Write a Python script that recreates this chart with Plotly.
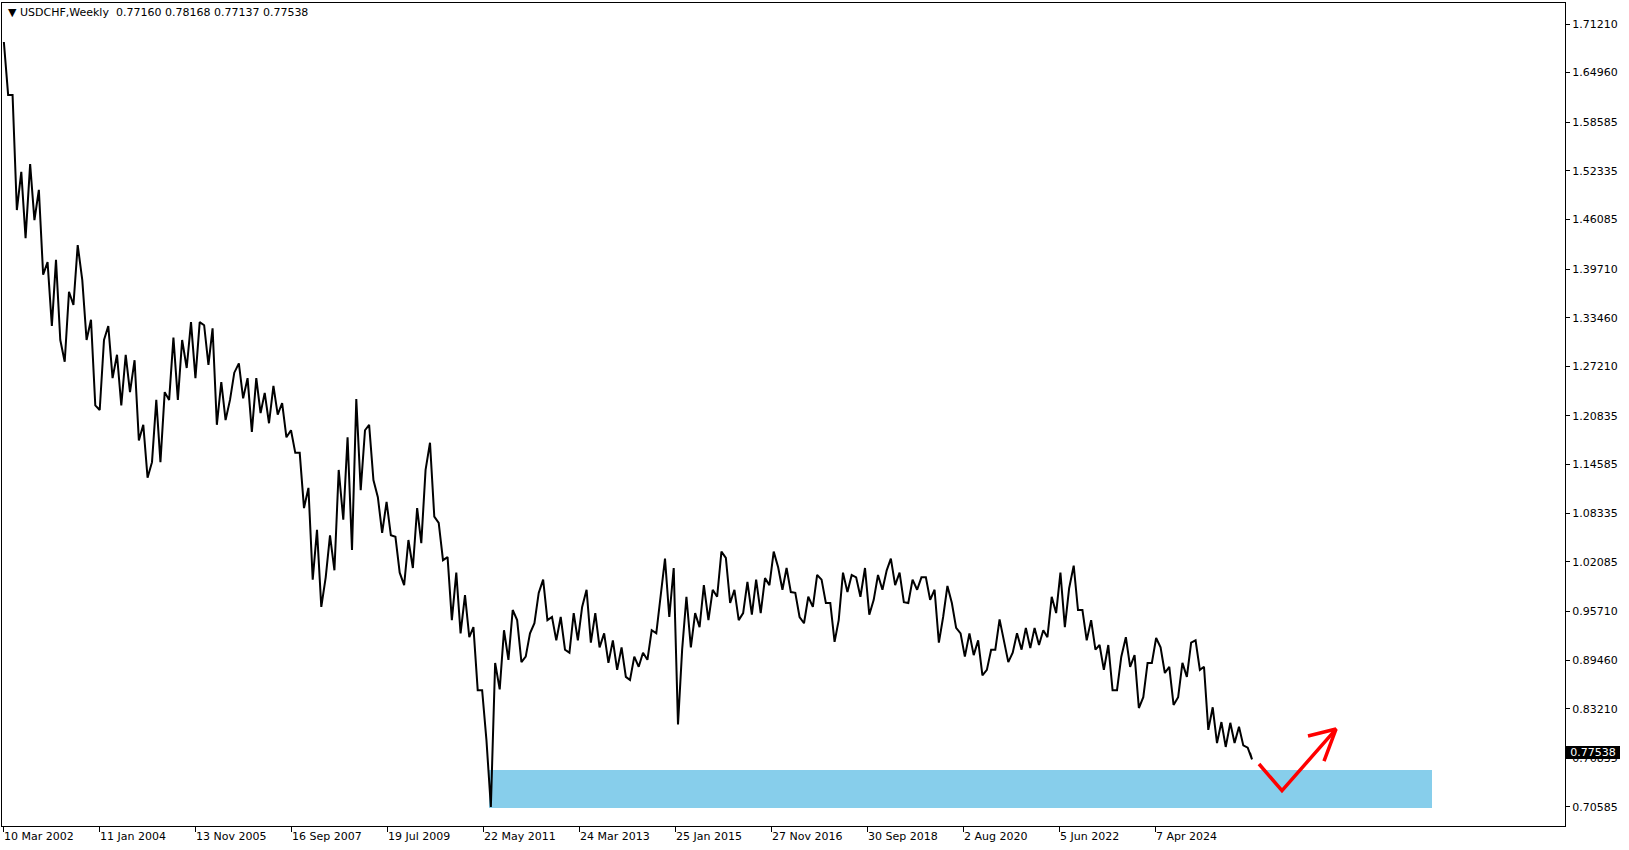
import plotly.graph_objects as go
import pandas as pd

window_start = "2002-03-01"
highs = [
    1.689, 1.621, 1.522, 1.532, 1.499, 1.406, 1.409, 1.368, 1.428, 1.383,
    1.332, 1.306, 1.324, 1.287, 1.287, 1.280, 1.197, 1.229, 1.239, 1.309,
    1.306, 1.329, 1.329, 1.325, 1.321, 1.252, 1.264, 1.276, 1.257, 1.257,
    1.238, 1.247, 1.225, 1.190, 1.161, 1.116, 1.062, 1.055, 1.139, 1.181,
    1.230, 1.190, 1.197, 1.104, 1.098, 1.053, 1.049, 1.090, 1.139, 1.174,
    1.071, 1.027, 1.007, 0.978, 0.937, 0.856, 0.891, 0.933, 0.959, 0.946,
    0.929, 0.981, 0.998, 0.950, 0.950, 0.955, 0.963, 0.985, 0.955, 0.929,
    0.920, 0.911, 0.899, 0.904, 0.933, 0.976, 1.025, 1.013, 0.976, 0.955,
    0.991, 0.985, 1.034, 1.026, 0.985, 0.995, 0.998, 1.000, 1.034, 1.014,
    1.013, 0.981, 0.976, 1.004, 0.998, 0.968, 1.007, 1.004, 1.001, 1.013,
    1.004, 1.010, 1.025, 1.007, 0.998, 1.001, 1.001, 0.985, 0.990, 0.968,
    0.929, 0.929, 0.920, 0.908, 0.947, 0.920, 0.929, 0.936, 0.936, 0.933,
    0.976, 1.007, 0.987, 1.016, 0.959, 0.946, 0.914, 0.914, 0.899, 0.924,
    0.901, 0.891, 0.923, 0.911, 0.886, 0.891, 0.917, 0.920, 0.886, 0.834,
    0.815, 0.814, 0.809, 0.782,
]
lows = [
    1.621, 1.473, 1.437, 1.460, 1.390, 1.324, 1.306, 1.278, 1.351, 1.306,
    1.222, 1.216, 1.257, 1.222, 1.239, 1.177, 1.129, 1.149, 1.149, 1.229,
    1.229, 1.270, 1.257, 1.274, 1.197, 1.203, 1.229, 1.231, 1.188, 1.212,
    1.199, 1.210, 1.181, 1.161, 1.090, 0.998, 0.963, 1.001, 1.010, 1.075,
    1.036, 1.113, 1.126, 1.058, 1.055, 1.007, 0.991, 1.013, 1.045, 1.079,
    1.023, 0.946, 0.929, 0.924, 0.856, 0.792, 0.706, 0.857, 0.895, 0.892,
    0.899, 0.942, 0.946, 0.920, 0.908, 0.904, 0.920, 0.917, 0.911, 0.891,
    0.882, 0.873, 0.869, 0.886, 0.895, 0.929, 0.950, 0.812, 0.908, 0.911,
    0.937, 0.946, 0.976, 0.968, 0.946, 0.955, 0.953, 0.955, 0.991, 0.985,
    0.982, 0.950, 0.942, 0.963, 0.968, 0.918, 0.946, 0.982, 0.976, 0.953,
    0.972, 0.985, 0.991, 0.969, 0.968, 0.985, 0.972, 0.917, 0.950, 0.936,
    0.899, 0.901, 0.875, 0.882, 0.908, 0.892, 0.904, 0.908, 0.910, 0.914,
    0.924, 0.955, 0.937, 0.959, 0.920, 0.908, 0.882, 0.856, 0.856, 0.886,
    0.833, 0.847, 0.891, 0.878, 0.837, 0.847, 0.873, 0.882, 0.805, 0.788,
    0.783, 0.788, 0.785, 0.767,
]
last_date = "2026-02-01"
last_ohlc = [0.77160, 0.78168, 0.77137, 0.77538]

y_ticks = [1.71210, 1.64960, 1.58585, 1.52335, 1.46085, 1.39710, 1.33460,
           1.27210, 1.20835, 1.14585, 1.08335, 1.02085, 0.95710, 0.89460,
           0.83210, 0.76835, 0.70585]
x_tick_dates = ["2002-03-10", "2004-01-11", "2005-11-13", "2007-09-16",
                "2009-07-19", "2011-05-22", "2013-03-24", "2015-01-25",
                "2016-11-27", "2018-09-30", "2020-08-02", "2022-06-05",
                "2024-04-07"]
x_tick_labels = ["10 Mar 2002", "11 Jan 2004", "13 Nov 2005", "16 Sep 2007",
                 "19 Jul 2009", "22 May 2011", "24 Mar 2013", "25 Jan 2015",
                 "27 Nov 2016", "30 Sep 2018", "2 Aug 2020", "5 Jun 2022",
                 "7 Apr 2024"]

# support zone and hand-drawn arrow
zone_dates = ["2011-07-03", "2029-07-29"]
zone_prices = [0.7045, 0.7533]
arrow_dates = ["2026-04-05", "2026-09-13", "2027-09-26"]
arrow_prices = [0.7611, 0.7268, 0.8060]
head_dates = ["2027-03-14", "2027-09-26", "2027-07-04"]
head_prices = [0.7971, 0.8060, 0.7649]

# build a high/low zigzag path
starts = pd.date_range(window_start, periods=len(highs), freq="2MS")
mids = [(h + l) / 2 for h, l in zip(highs, lows)]
xs, ys = [], []
for i, s in enumerate(starts):
    prev_mid = mids[i - 1] if i > 0 else mids[i]
    next_mid = mids[i + 1] if i < len(mids) - 1 else mids[i]
    if next_mid < prev_mid:
        pair = (highs[i], lows[i])
    else:
        pair = (lows[i], highs[i])
    xs += [s + pd.Timedelta(days=15), s + pd.Timedelta(days=45)]
    ys += list(pair)
xs.append(pd.Timestamp(last_date))
ys.append(last_ohlc[3])

fig = go.Figure()
fig.add_trace(go.Scatter(
    x=xs, y=ys, mode="lines",
    line=dict(color="black", width=2),
    hoverinfo="skip"
))
fig.add_trace(go.Scatter(
    x=arrow_dates, y=arrow_prices, mode="lines",
    line=dict(color="#ff0000", width=3.5)
))
fig.add_trace(go.Scatter(
    x=head_dates, y=head_prices, mode="lines",
    line=dict(color="#ff0000", width=3.5)
))

fig.add_shape(
    type="rect", xref="x", yref="y",
    x0=zone_dates[0], x1=zone_dates[1],
    y0=zone_prices[0], y1=zone_prices[1],
    fillcolor="#87ceeb", line=dict(width=0), layer="below"
)

font = dict(family="DejaVu Sans", size=11, color="black")

fig.add_annotation(
    xref="paper", yref="paper", x=0.0025, y=0.989,
    xanchor="left", yanchor="middle", showarrow=False,
    text="\u25bc USDCHF,Weekly\u00a0\u00a0" + " ".join(f"{v:.5f}" for v in last_ohlc),
    font=font
)
fig.add_annotation(
    xref="paper", yref="y", x=1, y=last_ohlc[3], xshift=1,
    xanchor="left", yanchor="middle", showarrow=False,
    text=f"{last_ohlc[3]:.5f}", font=dict(family="DejaVu Sans", size=11, color="white"),
    bgcolor="black", width=54, height=13, borderpad=0, borderwidth=0
)

fig.update_layout(
    width=1629, height=850,
    margin=dict(l=2, r=64, t=3, b=24),
    plot_bgcolor="white", paper_bgcolor="white",
    showlegend=False, font=font,
    xaxis=dict(
        type="date", range=["2002-03-03", "2032-02-15"],
        tickvals=x_tick_dates, ticktext=x_tick_labels,
        ticks="outside", ticklen=5, tickcolor="black",
        ticklabelposition="outside right",
        showgrid=False, zeroline=False,
        showline=True, linecolor="black", linewidth=1, mirror=True
    ),
    yaxis=dict(
        side="right", range=[0.6814, 1.7391],
        tickvals=y_ticks, ticktext=[f"{v:.5f}" for v in y_ticks],
        ticks="outside", ticklen=4, tickcolor="black",
        showgrid=False, zeroline=False,
        showline=True, linecolor="black", linewidth=1, mirror=True
    ),
)

# page body has a default 8px margin; drop it so the chart sits at the window corner
fig.write_html(
    "out.html",
    config={"displayModeBar": False},
    post_script="document.body.style.margin='0';"
)
